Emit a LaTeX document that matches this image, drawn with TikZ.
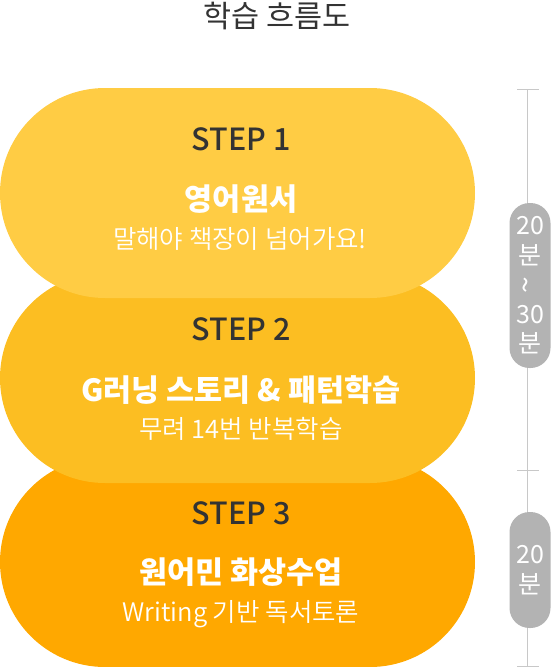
\documentclass[tikz,border=0pt]{standalone}
\usepackage{fontspec}
\setmainfont{Noto Sans CJK KR}
\newfontfamily\lightfont{Noto Sans CJK KR DemiLight}
\newfontfamily\midfont{Noto Sans CJK KR Medium}
\usepackage{tikz}

\definecolor{stepone}{RGB}{255,204,68}
\definecolor{steptwo}{RGB}{252,190,34}
\definecolor{stepthree}{RGB}{255,168,0}
\definecolor{darktext}{RGB}{51,51,51}
\definecolor{pillgray}{RGB}{179,179,179}
\definecolor{linegray}{RGB}{200,200,200}

\tikzset{
    stadium/.style={rounded corners=105pt, minimum width=475pt, minimum height=210pt, inner sep=0pt},
    steplabel/.style={text=darktext, font=\midfont\fontsize{30.5}{30}\selectfont},
    steptitle/.style={text=white, font=\bfseries\fontsize{30.5}{30}\selectfont},
    stepsub/.style={text=white, font=\lightfont\fontsize{25.5}{25}\selectfont},
    timepill/.style={fill=pillgray, rounded corners=20pt, minimum width=41pt, text=white, inner sep=0pt, font=\fontsize{25}{29.5}\selectfont, align=center},
}

\begin{document}
\begin{tikzpicture}[x=1pt, y=-1pt]
        \useasboundingbox (0,0) rectangle (551,667);
        \node[text=darktext, font=\fontsize{30.5}{30}\selectfont] (title) at (277,16) {학습 흐름도};

        % stadiums, bottom one first
        \node[stadium, fill=stepthree] (s3) at (237.5,562) {};
        \node[stadium, fill=steptwo] (s2) at (237.5,378) {};
        \node[stadium, fill=stepone] (s1) at (237.5,193) {};

        \node[steplabel] (l1) at (241,139) {STEP 1};
        \node[steptitle] (t1) at (241,199) {영어원서};
        \node[stepsub] (d1) at (240,239) {말해야 책장이 넘어가요!};

        \node[steplabel] (l2) at (241,329) {STEP 2};
        \node[steptitle] (t2) at (241,390) {G러닝 스토리 \& 패턴학습};
        \node[stepsub] (d2) at (241,429) {무려 14번 반복학습};

        \node[steplabel] (l3) at (241,513) {STEP 3};
        \node[steptitle] (t3) at (241,572) {원어민 화상수업};
        \node[stepsub] (d3) at (241,614) {Writing 기반 독서토론};

        % time line on the right
        \coordinate (k0) at (527,89);
        \coordinate (k1) at (527,470);
        \coordinate (k2) at (527,666);
        \draw[linegray, line width=1pt] (k0) -- (k2);
        \draw[linegray, line width=1pt] ([xshift=-10pt]k0) -- ([xshift=12pt]k0);
        \draw[linegray, line width=1pt] ([xshift=-10pt]k1) -- ([xshift=12pt]k1);
        \draw[linegray, line width=1pt] ([xshift=-10pt]k2) -- ([xshift=12pt]k2);
        \node[timepill, minimum height=165pt] (p1) at (530,285.5) {20\\분\\\rotatebox{90}{\fontsize{30}{30}\selectfont\textasciitilde}\\30\\분};
        \node[timepill, minimum height=116pt] (p2) at (530,570) {20\\분};
    \end{tikzpicture}
\end{document}
